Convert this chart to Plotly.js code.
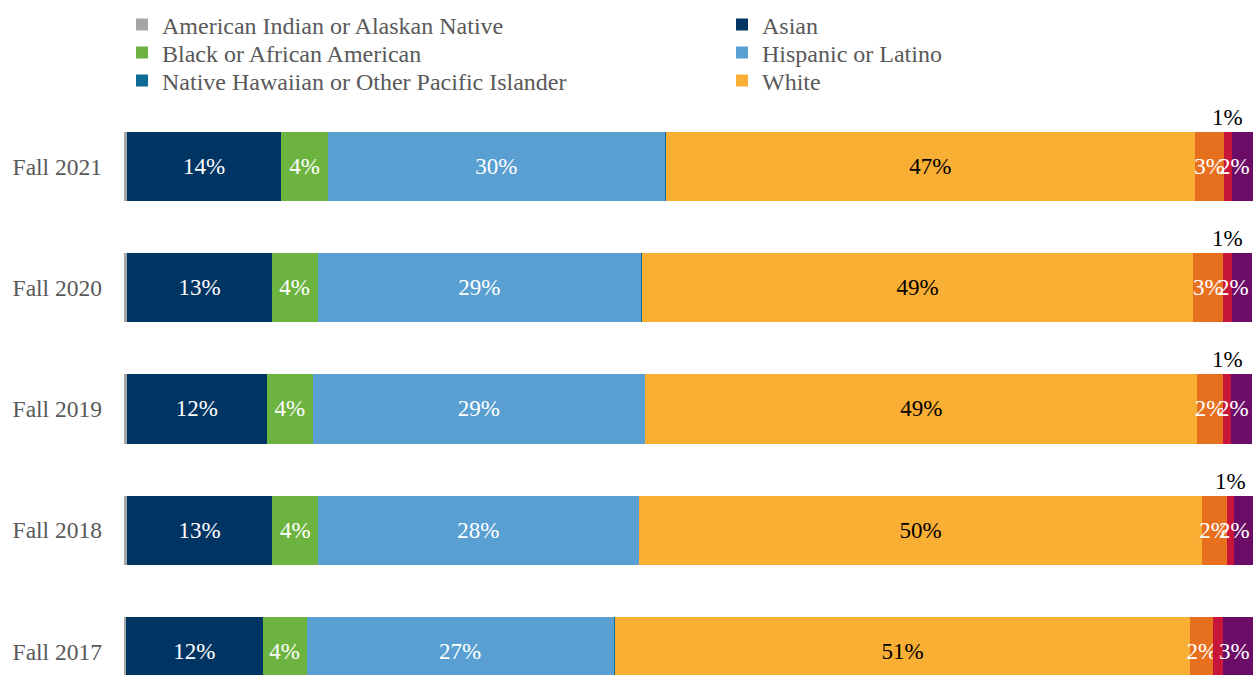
<!DOCTYPE html>
<html><head><meta charset="utf-8">
<script src="https://cdn.plot.ly/plotly-3.0.1.min.js"></script>
<style>html,body{margin:0;padding:0;background:#fff}#chart{width:1253px;height:675px}</style>
</head><body><div id="chart"></div><script>
// Categories (bottom to top)
const terms = ['Fall 2017','Fall 2018','Fall 2019','Fall 2020','Fall 2021'];
// Series values (% of total)
const amIndian    = [0.19, 0.25, 0.25, 0.30, 0.25];
const asian       = [12.1, 12.9, 12.4, 12.8, 13.7];
const black       = [3.9, 4.05, 4.1, 4.05, 4.1];
const hispanic    = [27.2, 28.4, 29.4, 28.7, 29.9];
const hawaiian    = [0.10, 0.05, 0.05, 0.02, 0.05];
const white       = [51.0, 49.9, 48.9, 48.9, 46.9];
const twoOrMore   = [2.04, 2.2, 2.3, 2.66, 2.6];
const nonresident = [0.89, 0.62, 0.70, 0.80, 0.66];
const unknown     = [2.6, 1.68, 1.86, 1.77, 1.86];
// Which terms show the small-segment label above the bar
const aboveLabelTerms = ['Fall 2018','Fall 2019','Fall 2020','Fall 2021'];

const FONT = "'Liberation Serif', 'Times New Roman', serif";
const series = [
  {name:'American Indian or Alaskan Native', v:amIndian, c:'#A5A5A5', txt:null, leg:'legend'},
  {name:'Asian', v:asian, c:'#003462', txt:'#ffffff', leg:'legend2'},
  {name:'Black or African American', v:black, c:'#6DB33F', txt:'#ffffff', leg:'legend3'},
  {name:'Hispanic or Latino', v:hispanic, c:'#599FD1', txt:'#ffffff', leg:'legend4'},
  {name:'Native Hawaiian or Other Pacific Islander', v:hawaiian, c:'#0D6A94', txt:null, leg:'legend5'},
  {name:'White', v:white, c:'#F9AE34', txt:'#000000', leg:'legend6'},
  {name:'Two or More Races', v:twoOrMore, c:'#E7701F', txt:'#ffffff', leg:null},
  {name:'Nonresident Alien', v:nonresident, c:'#C8153A', txt:null, leg:null},
  {name:'Unknown', v:unknown, c:'#6B0D66', txt:null, leg:null}
];

const totals = terms.map((t,i) => series.reduce((a,s) => a + s.v[i], 0));
const xMax = Math.max(...totals) + 0.001;

const traces = series.map(s => ({
  type:'bar', orientation:'h', name:s.name, y:terms, x:s.v,
  marker:{color:s.c, line:{width:0}},
  showlegend: !!s.leg,
  legend: s.leg || 'legend',
  texttemplate: s.txt ? '%{x:.0f}%' : '',
  textposition: s.txt ? 'inside' : 'none',
  insidetextanchor:'middle',
  textangle:0,
  constraintext:'none',
  cliponaxis:false,
  textfont:{family:FONT, size:23, color:s.txt || '#000'},
  hoverinfo:'skip'
}));

const annotations = [];
terms.forEach((t,i) => {
  let before = 0;
  for (const s of series) { if (s.v === nonresident) break; before += s.v[i]; }
  // label above the small red segment
  if (aboveLabelTerms.includes(t)) {
    annotations.push({
      x: before + nonresident[i]/2, y: t, xref:'x', yref:'y',
      text: Math.round(nonresident[i]) + '%', showarrow:false,
      yshift: 49, font:{family:FONT, size:23, color:'#000'}
    });
  }
  // label of the last (purple) segment, right-aligned at the bar end
  annotations.push({
    x: totals[i], y: t, xref:'x', yref:'y', xanchor:'right', xshift:-1,
    text: Math.round(unknown[i]) + '%', showarrow:false,
    font:{family:FONT, size:23, color:'#ffffff'}
  });
});

// legend placement: two columns, three rows
const legFont = {family:FONT, size:24, color:'#595959'};
function leg(col, row) {
  return {orientation:'v', xref:'container', yref:'container',
          x: col === 0 ? 122/1253 : 722/1253, xanchor:'left',
          y: 1 - (25 + row*28)/675, yanchor:'middle',
          font:legFont, bgcolor:'rgba(0,0,0,0)', borderwidth:0};
}

const layout = {
  width:1253, height:675,
  margin:{l:124, r:0, t:106, b:0, autoexpand:false},
  paper_bgcolor:'#fff', plot_bgcolor:'#fff',
  barmode:'stack', bargap:0.43,
  font:{family:FONT, size:23, color:'#595959'},
  xaxis:{range:[0, xMax], showgrid:false, zeroline:false, showticklabels:false, showline:false, ticks:''},
  yaxis:{type:'category', categoryorder:'array', categoryarray:terms, range:[-0.195, 4.5],
         showgrid:false, zeroline:false, showline:false, ticks:'', ticklabelstandoff:21,
         tickfont:{family:FONT, size:23.5, color:'#595959'}},
  showlegend:true,
  legend: leg(0,0), legend2: leg(1,0),
  legend3: leg(0,1), legend4: leg(1,1),
  legend5: leg(0,2), legend6: leg(1,2),
  annotations: annotations
};

Plotly.newPlot('chart', traces, layout, {displayModeBar:false, staticPlot:true});
</script></body></html>
